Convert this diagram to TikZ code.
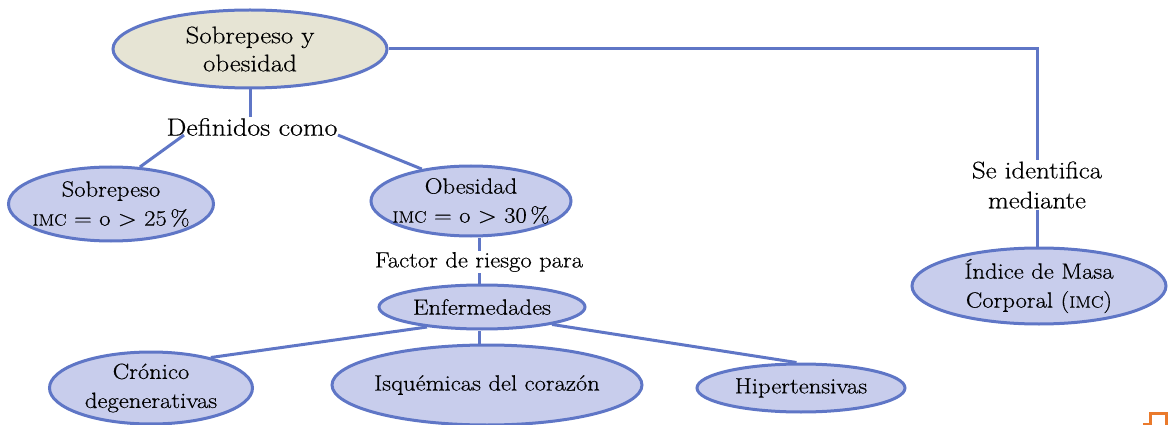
\documentclass[tikz,border=0pt]{standalone}
\usepackage{fontspec}
\setmainfont{Latin Modern Roman}[FakeStretch=1.12,FakeBold=0.5]
\usetikzlibrary{shapes.geometric,calc}
\definecolor{bordc}{HTML}{5F76C6}
\definecolor{fillc}{HTML}{C8CDEC}
\definecolor{beigec}{HTML}{E6E4D4}
\definecolor{orangec}{HTML}{EA7A2C}
\newcommand{\smimc}{{\fontsize{16.5}{16.5}\selectfont IMC}}
\begin{document}
\begin{tikzpicture}[x=1pt,y=-1pt,
  oval/.style={ellipse, draw=bordc, line width=3pt, fill=fillc, inner xsep=-30pt, inner ysep=-12pt, align=center,
    font=\fontsize{22}{29}\selectfont},
  lbl/.style={inner sep=1pt, align=center, font=\fontsize{22}{30}\selectfont},
  conn/.style={draw=bordc, line width=3pt}]
\useasboundingbox (0,0) rectangle (1168,425);

\node[oval, fill=beigec, minimum width=274pt, minimum height=78pt, font=\fontsize{24}{28}\selectfont] (top) at (250,49) {Sobrepeso y\\obesidad};
\node[lbl, font=\fontsize{25}{30}\selectfont] (def) at (252,127) {Definidos como};
\node[oval, minimum width=205pt, minimum height=74pt] (sobre) at (111,204) {Sobrepeso\\\smimc{} = o > 25\,\%};
\node[oval, minimum width=200pt, minimum height=70pt] (obes) at (471,201) {Obesidad\\\smimc{} = o > 30\,\%};
\node[lbl] (factor) at (479,262) {Factor de riesgo para};
\node[oval, minimum width=206pt, minimum height=44pt] (enf) at (482,307) {Enfermedades};
\node[oval, minimum width=203pt, minimum height=72pt] (cron) at (151,388) {Crónico\\degenerativas};
\node[oval, minimum width=310pt, minimum height=80pt] (isq) at (487,385) {Isquémicas del corazón};
\node[oval, minimum width=208pt, minimum height=48pt] (hip) at (801,388) {Hipertensivas};
\node[lbl, font=\fontsize{24}{30}\selectfont] (se) at (1037,185) {Se identifica\\mediante};
\node[oval, minimum width=254pt, minimum height=76pt] (imc) at (1039,286) {Índice de Masa\\Corporal (\smimc)};

\draw[conn] (top.south) -- (top.south |- def.north);
\draw[conn] ($(def.south)+(-68,-2)$) -- (sobre.52);
\draw[conn] ($(def.south)+(86,-2)$) -- (obes.147);
\draw[conn] (factor.north) -- (factor.north |- obes.south);
\draw[conn] (factor.south) -- (factor.south |- enf.north);
\draw[conn] (enf.south -| factor) -- (isq.north -| factor);
\draw[conn] (enf.200) -- (cron.27);
\draw[conn] (enf.-14) -- (hip.100);
\draw[conn] (top.east) -- (top.east -| se) -- (se.north);
\draw[conn] (se.south) -- (se.south |- imc.north);

\begin{scope}
\clip (0,0) rectangle (1168,425);
\draw[draw=orangec, line width=3pt] (1143,424) -- (1150,424) -- (1150,413) -- (1166,413) -- (1166,430);
\end{scope}
\end{tikzpicture}
\end{document}
